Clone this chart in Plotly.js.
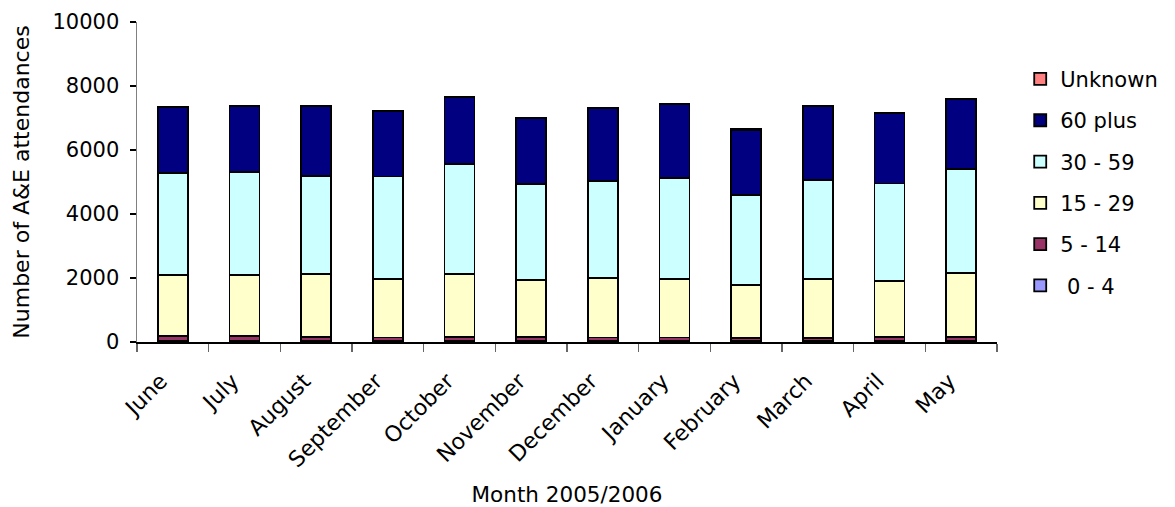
<!DOCTYPE html>
<html>
<head>
<meta charset="utf-8">
<script src="https://cdn.plot.ly/plotly-3.0.1.min.js"></script>
<style>html,body{margin:0;padding:0;background:#fff;}#chart{width:1175px;height:507px;}</style>
</head>
<body>
<div id="chart"></div>
<script>
const months = ["June","July","August","September","October","November","December","January","February","March","April","May"];
const age0to4   = [30,30,30,30,30,30,30,30,30,30,30,30];
const age5to14  = [170,170,120,110,130,120,110,110,100,90,130,130];
const age15to29 = [1890,1890,1975,1830,1955,1790,1870,1820,1650,1840,1755,2000];
const age30to59 = [3180,3230,3070,3200,3440,2990,3030,3175,2820,3105,3040,3250];
const age60plus = [2070,2050,2180,2040,2100,2070,2270,2295,2035,2300,2185,2180];
const unknown   = [10,10,10,10,10,10,10,10,10,10,10,10];

const yTicks = [0,2000,4000,6000,8000,10000];
const yTickText = ["0","2000","4000","6000","8000","10000"];

const seriesNames = [" 0 - 4","5 - 14","15 - 29","30 - 59","60 plus","Unknown"];
const seriesData = [age0to4, age5to14, age15to29, age30to59, age60plus, unknown];
const seriesColors = ["#9999FF","#993366","#FFFFCC","#CCFFFF","#000080","#FF8080"];

const traces = seriesNames.map((n,i)=>({
  type:"bar", name:n, x:months, y:seriesData[i],
  legendgroup:"g"+i, legendrank:(6-i)*100,
  marker:{color:seriesColors[i], line:{color:"#000", width:1.8}}
}));

const font = "DejaVu Sans, Verdana, sans-serif";
const layout = {
  width:1175, height:507,
  margin:{l:137, r:178, t:22, b:165},
  barmode:"stack", bargap:0.58,
  paper_bgcolor:"#fff", plot_bgcolor:"#fff",
  font:{family:font, color:"#000", size:20},
  xaxis:{
    type:"category", tickangle:-45, tickson:"boundaries",
    ticks:"outside", ticklen:8, tickcolor:"#666", tickwidth:1.5,
    ticklabelstandoff:16, ticklabelshift:-12,
    showline:true, linecolor:"#000", linewidth:1.5,
    tickfont:{size:22},
    title:{text:"Month 2005/2006", font:{size:21.5}, standoff:20},
    showgrid:false, zeroline:false, automargin:false
  },
  yaxis:{
    range:[0,10000], tickvals:yTicks, ticktext:yTickText,
    ticks:"outside", ticklen:6, tickcolor:"#000", tickwidth:1.2,
    ticklabelstandoff:6,
    showline:true, linecolor:"#808080", linewidth:1.5,
    tickfont:{size:21},
    title:{text:"Number of A&amp;E attendances", font:{size:22}, standoff:17},
    showgrid:false, zeroline:false, automargin:false
  },
  legend:{
    x:1.027, xanchor:"left", y:0.885, yanchor:"top",
    traceorder:"grouped", tracegroupgap:11,
    font:{size:21}, bgcolor:"rgba(0,0,0,0)"
  },
  showlegend:true
};
Plotly.newPlot("chart", traces, layout, {displayModeBar:false, staticPlot:true});
</script>
</body>
</html>
